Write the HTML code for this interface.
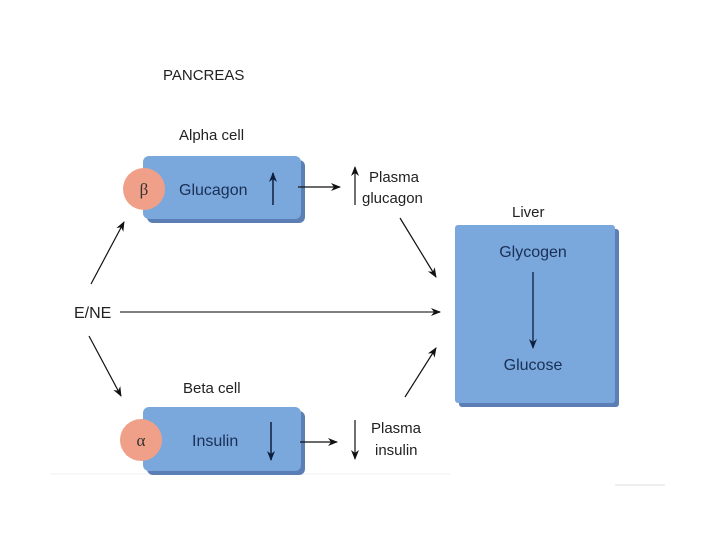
<!DOCTYPE html>
<html><head><meta charset="utf-8"><style>
html,body{margin:0;padding:0;background:#fff;}
svg{display:block;font-family:"Liberation Sans",sans-serif;}
</style></head><body>
<svg width="720" height="540" viewBox="0 0 720 540" xmlns="http://www.w3.org/2000/svg">
<defs>
<marker id="a" markerWidth="10" markerHeight="8" refX="9" refY="4" orient="auto" markerUnits="userSpaceOnUse">
<path d="M0,0 L10,4 L0,8 L3,4 Z" fill="#111"/></marker>
<marker id="b" markerWidth="10" markerHeight="8" refX="9" refY="4" orient="auto" markerUnits="userSpaceOnUse">
<path d="M0,0 L10,4 L0,8 L3,4 Z" fill="#0d1f3d"/></marker>
</defs>
<line x1="50" y1="474" x2="450" y2="474" stroke="#f0f0f0" stroke-width="1"/>
<line x1="615" y1="485" x2="665" y2="485" stroke="#ddd" stroke-width="1"/>
<text x="163" y="80" font-size="15" fill="#222">PANCREAS</text>
<text x="179" y="140" font-size="15" fill="#222">Alpha cell</text>
<!-- alpha box -->
<rect x="147" y="160" width="158" height="63" rx="6" fill="#5b7fb5"/>
<rect x="143" y="156" width="158" height="63" rx="6" fill="#7aa8dc"/>
<circle cx="144" cy="189" r="21" fill="#f0a088"/>
<text x="144" y="195" font-size="17" text-anchor="middle" fill="#333" font-family="Liberation Serif,serif">β</text>
<text x="179" y="195" font-size="16" fill="#1a2f55">Glucagon</text>
<line x1="273" y1="205" x2="273" y2="173" stroke="#0d1f3d" stroke-width="1.5" marker-end="url(#b)"/>
<line x1="298" y1="187" x2="340" y2="187" stroke="#111" stroke-width="1.2" marker-end="url(#a)"/>
<line x1="355" y1="205" x2="355" y2="167" stroke="#111" stroke-width="1.2" marker-end="url(#a)"/>
<text x="369" y="182" font-size="15" fill="#222">Plasma</text>
<text x="362" y="203" font-size="15" fill="#222">glucagon</text>
<!-- beta -->
<text x="183" y="393" font-size="15" fill="#222">Beta cell</text>
<rect x="147" y="411" width="158" height="64" rx="6" fill="#5b7fb5"/>
<rect x="143" y="407" width="158" height="64" rx="6" fill="#7aa8dc"/>
<circle cx="141" cy="440" r="21" fill="#f0a088"/>
<text x="141" y="446" font-size="17" text-anchor="middle" fill="#333" font-family="Liberation Serif,serif">α</text>
<text x="192" y="446" font-size="16" fill="#1a2f55">Insulin</text>
<line x1="271" y1="422" x2="271" y2="460" stroke="#0d1f3d" stroke-width="1.5" marker-end="url(#b)"/>
<line x1="300" y1="442" x2="337" y2="442" stroke="#111" stroke-width="1.2" marker-end="url(#a)"/>
<line x1="355" y1="420" x2="355" y2="459" stroke="#111" stroke-width="1.2" marker-end="url(#a)"/>
<text x="371" y="433" font-size="15" fill="#222">Plasma</text>
<text x="375" y="455" font-size="15" fill="#222">insulin</text>
<!-- E/NE -->
<text x="74" y="318" font-size="16" fill="#222">E/NE</text>
<line x1="91" y1="284" x2="124" y2="222" stroke="#111" stroke-width="1.2" marker-end="url(#a)"/>
<line x1="89" y1="336" x2="121" y2="396" stroke="#111" stroke-width="1.2" marker-end="url(#a)"/>
<line x1="120" y1="312" x2="440" y2="312" stroke="#555" stroke-width="1.5" marker-end="url(#a)"/>
<line x1="400" y1="218" x2="436" y2="277" stroke="#111" stroke-width="1.2" marker-end="url(#a)"/>
<line x1="405" y1="397" x2="436" y2="348" stroke="#111" stroke-width="1.2" marker-end="url(#a)"/>
<!-- liver -->
<text x="512" y="217" font-size="15" fill="#222">Liver</text>
<rect x="459" y="229" width="160" height="178" rx="3" fill="#5b7fb5"/>
<rect x="455" y="225" width="160" height="178" rx="3" fill="#7aa8dc"/>
<text x="533" y="257" font-size="16" text-anchor="middle" fill="#1a2f55">Glycogen</text>
<line x1="533" y1="272" x2="533" y2="348" stroke="#0d1f3d" stroke-width="1.3" marker-end="url(#b)"/>
<text x="533" y="370" font-size="16" text-anchor="middle" fill="#1a2f55">Glucose</text>
</svg>
</body></html>
